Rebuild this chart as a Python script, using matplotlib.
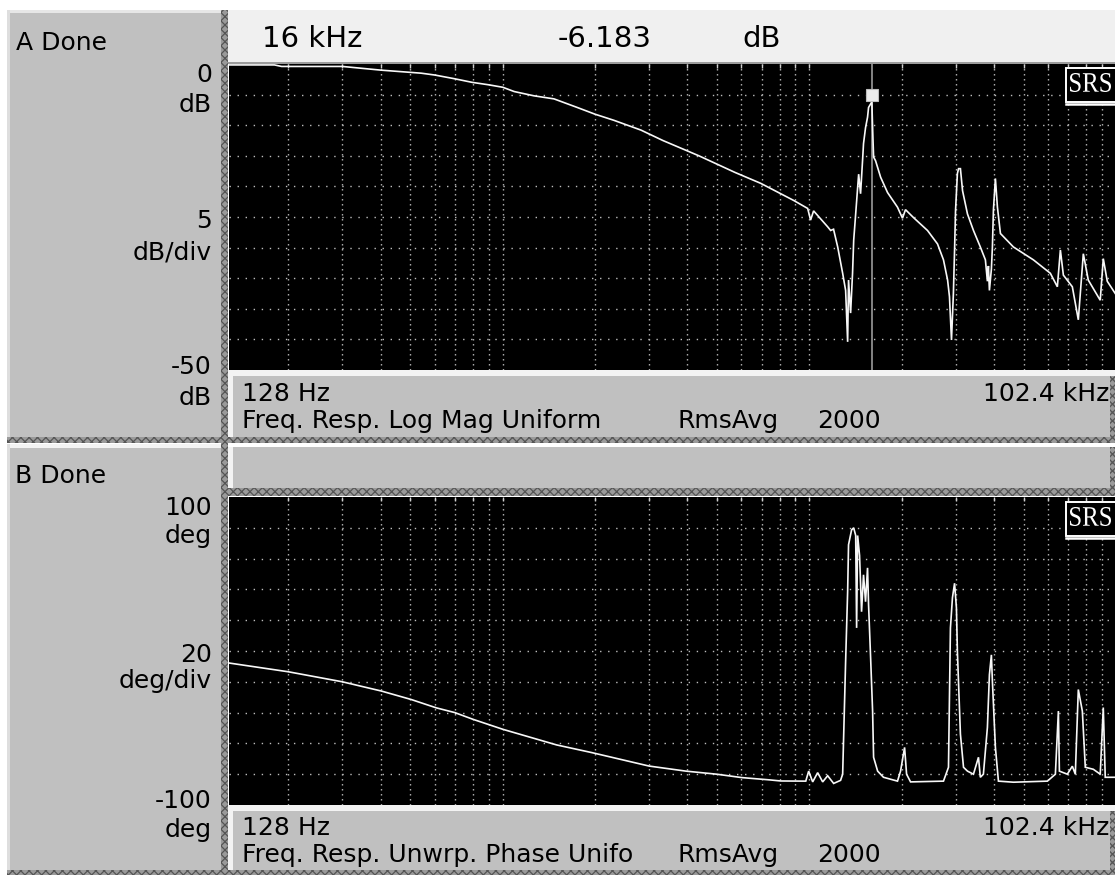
import matplotlib
matplotlib.use("Agg")
import matplotlib.pyplot as plt
from matplotlib.patches import Rectangle, Polygon, PathPatch
from matplotlib.transforms import ScaledTranslation, Affine2D
from matplotlib.textpath import TextPath
from matplotlib.font_manager import FontProperties

plt.rcParams["font.family"] = ["DejaVu Sans"]
plt.rcParams["hatch.linewidth"] = 0.9

# ---------------- measurement data ----------------
# Trace A: frequency response, log magnitude (dB)
mag_freq_hz = [128, 180, 190, 300, 400, 542, 600, 695, 795, 900, 1000, 1090, 1265,
               1470, 1750, 2000, 2305, 2825, 3330, 4365, 5715, 6945, 8900, 9880,
               10100, 10330, 11480, 11740, 12000, 12380, 12850, 13140, 13340, 13430,
               13640, 13840, 13960, 14170, 14380, 14490, 14700, 14920, 15030, 15260,
               15490, 15610, 16000, 16090, 16210, 16450, 17090, 18000, 19400, 20140,
               20600, 21880, 24300, 26200, 27400, 28260, 28660, 29100, 29520, 29780,
               30000, 30420, 30690, 31120, 31620, 32810, 34320, 36140, 37540, 38110,
               38400, 38690, 39270, 39570, 39870, 40470, 41090, 42030, 46340, 53830,
               61150, 64450, 65930, 67430, 72120, 75440, 78330, 81290, 88930, 91000,
               93760, 99560, 102400]
mag_db = [-0.15, -0.15, -0.4, -0.4, -1.0, -1.5, -1.8, -2.4, -3.0, -3.4, -3.8, -4.5, -5.2,
          -5.7, -7.1, -8.2, -9.2, -10.8, -12.5, -15.0, -17.7, -19.5, -22.3, -23.6,
          -25.5, -24.0, -26.6, -27.2, -27.0, -29.9, -34.2, -37.0, -45.4, -35.3,
          -40.7, -34.2, -28.8, -24.5, -20.2, -18.0, -21.2, -15.8, -13.0, -10.4,
          -8.7, -7.1, -6.183, -10.4, -15.2, -15.8, -18.5, -21.0, -23.4, -25.2,
          -23.8, -25.1, -27.2, -29.4, -32.0, -35.3, -38.0, -45.1, -37.5, -30.4,
          -23.9, -17.9, -17.1, -17.1, -20.7, -24.5, -27.2, -29.9, -32.0, -35.5,
          -33.0, -37.0, -33.5, -29.9, -23.9, -18.7, -23.4, -27.7, -29.9, -32.0,
          -34.2, -36.4, -30.4, -34.5, -36.4, -41.8, -31.0, -35.3, -38.6, -31.8,
          -35.5, -37.5, -38.5]

# Trace B: frequency response, unwrapped phase (deg)
ph_freq_hz = [128, 200, 300, 402, 503, 607, 698, 801, 1003, 1500, 1955, 3000, 3958,
              4990, 6025, 7430, 8070, 9740, 9955, 10260, 10650, 11060, 11480, 12010,
              12650, 12850, 13140, 13340, 13430, 13740, 13960, 14170, 14270, 14380,
              14590, 14810, 15030, 15260, 15490, 15610, 15850, 16090, 16210, 16710,
              17460, 19400, 19850, 20460, 20770, 21400, 27400, 28450, 28870, 29310,
              29780, 30200, 30420, 31120, 31850, 32810, 34320, 35640, 36140, 36980,
              38110, 38690, 39270, 39570, 40470, 41400, 46340, 59800, 63500, 64950,
              65440, 69460, 72120, 73760, 75440, 77750, 79500, 84430, 88930, 91000,
              92350, 99560, 102400]
ph_deg = [-7.8, -13.5, -20, -26, -31.5, -36.9, -40, -44.4, -50.9, -61, -66, -74.7, -78,
          -80, -82.2, -83.7, -84.4, -84.5, -78, -85, -79, -85, -81, -86,
          -84, -80, -6.6, 38.7, 69, 78.6, 80, 75, 15, 75,
          62, 25.5, 49.5, 32, 54, 30, -4, -39, -69, -78,
          -82, -84.5, -78, -62.6, -80, -85, -84.5, -75.5, 15, 34.6,
          44, 28, -0.4, -54, -75.5, -78, -80, -69, -82, -80,
          -49.6, -15.4, -2.5, -19.8, -62.6, -84.5, -85.2, -84.5, -80, -39,
          -78, -80, -74.8, -80, -25, -39, -75.5, -76.8, -80, -36.7,
          -82, -82, -82]

f_start, f_stop = 128, 102400
mag_range = (-50, 0)
ph_range = (-100, 100)
cursor_freq = 16000
cursor_db = -6.183

grid_freqs = [m * 10 ** k for k in (2, 3, 4) for m in range(2, 11)]
mag_grid = [-5 * i for i in range(1, 10)]
ph_grid = [80 - 20 * i for i in range(9)]

# ---------------- figure & panel chrome ----------------
W, H = 1115, 875
fig = plt.figure(figsize=(W / 100, H / 100), dpi=100)
fig.patch.set_facecolor("white")

bg = fig.add_axes([0, 0, 1, 1], zorder=0)
bg.set_xlim(0, W)
bg.set_ylim(H, 0)
bg.axis("off")

PANEL = "#c0c0c0"
LIGHT = "#f3f3f3"


def rect(ax, x0, y0, x1, y1, color, hatch=None):
    if hatch:
        ax.add_patch(Rectangle((x0, y0), x1 - x0, y1 - y0, facecolor="#9a9a9a",
                               edgecolor="#555555", hatch=hatch, linewidth=0))
    else:
        ax.add_patch(Rectangle((x0, y0), x1 - x0, y1 - y0, facecolor=color,
                               edgecolor="none", linewidth=0))


# left side panels
rect(bg, 7, 10, 221, 437, PANEL)
rect(bg, 7, 10, 221, 13, "#e6e6e6")
rect(bg, 7, 10, 10, 437, "#dedede")
rect(bg, 7, 445, 221, 870, PANEL)
rect(bg, 7, 444, 221, 448, LIGHT)
rect(bg, 7, 444, 10, 870, "#dedede")

# header A (light bar)
rect(bg, 228, 10, W, 62, "#f0f0f0")
rect(bg, 228, 62, W, 64, "#9c9c9c")

# footer A
rect(bg, 228, 370, W, 437, PANEL)
rect(bg, 228, 370, W, 376, LIGHT)
rect(bg, 228, 370, 233, 437, LIGHT)

# header B
rect(bg, 228, 447, W, 488, PANEL)
rect(bg, 228, 447, 233, 488, LIGHT)

# footer B
rect(bg, 228, 805, W, 870, PANEL)
rect(bg, 228, 805, W, 811, LIGHT)
rect(bg, 228, 805, 233, 870, LIGHT)

# dark separator strips
rect(bg, 221, 10, 228, 871, None, hatch="xxxx")
rect(bg, 7, 437, W, 443, None, hatch="xxxx")
rect(bg, 228, 488, W, 496, None, hatch="xxxx")
rect(bg, 7, 870, W, 875, None, hatch="xxxx")
rect(bg, 1110, 376, W, 437, None, hatch="xxxx")
rect(bg, 1110, 447, W, 488, None, hatch="xxxx")
rect(bg, 1110, 811, W, 870, None, hatch="xxxx")

# ---------------- text ----------------
LBL = 18


def txt(x, y, s, ha="left", size=LBL):
    bg.text(x, y, s, ha=ha, va="baseline", fontsize=size, color="black")


txt(16, 50, "A Done")
txt(15, 483, "B Done")

for s, y in [("0", 82), ("dB", 112), ("5", 228), ("dB/div", 259), ("-50", 374), ("dB", 405)]:
    txt(212, y, s, ha="right")
for s, y in [("100", 515), ("deg", 543), ("20", 662), ("deg/div", 688), ("-100", 808), ("deg", 837)]:
    txt(212, y, s, ha="right")

txt(262, 47, "16 kHz", size=21)
txt(558, 47, "-6.183", size=21)
txt(742, 47, "dB", size=21)

txt(242, 401, "128 Hz")
txt(1109, 401, "102.4 kHz", ha="right")
txt(242, 428, "Freq. Resp. Log Mag Uniform")
txt(678, 428, "RmsAvg")
txt(817, 428, "2000")

txt(242, 835, "128 Hz")
txt(1109, 835, "102.4 kHz", ha="right")
txt(242, 862, "Freq. Resp. Unwrp. Phase Unifo")
txt(678, 862, "RmsAvg")
txt(817, 862, "2000")

# ---------------- trace axes ----------------
def trace_axes(top_px, bottom_px, yr, hgrid):
    left, right = 229, 1119
    ax = fig.add_axes([left / W, (H - bottom_px) / H, (right - left) / W,
                       (bottom_px - top_px) / H], zorder=2)
    ax.set_facecolor("black")
    ax.set_xscale("log")
    ax.set_xlim(f_start, f_stop)
    ax.set_ylim(*yr)
    ax.set_xticks([])
    ax.set_yticks([])
    ax.minorticks_off()
    for sp in ax.spines.values():
        sp.set_visible(False)
    for f in grid_freqs:
        ax.axvline(f, color="#bdbdbd", lw=1.0, dashes=(1.0, 2.6), zorder=1)
    for v in hgrid:
        ax.axhline(v, color="#bdbdbd", lw=1.0, dashes=(1.0, 4.8), zorder=1)
    ax.vlines(grid_freqs, 0.988, 1.0, transform=ax.get_xaxis_transform(),
              color="#d0d0d0", lw=1.0, zorder=1)
    return ax


ax_a = trace_axes(64, 370, mag_range, mag_grid)
ax_b = trace_axes(497, 805, ph_range, ph_grid)

ax_a.plot(mag_freq_hz, mag_db, color="#f8f8f8", lw=1.2, zorder=3, solid_joinstyle="miter")
ax_b.plot(ph_freq_hz, ph_deg, color="#f8f8f8", lw=1.2, zorder=3, solid_joinstyle="miter")

# marker cursor on trace A
ax_a.axvline(cursor_freq, color="#a8a8a8", lw=1.1, zorder=2)
lift = ax_a.transData + ScaledTranslation(0, 7 / 100, fig.dpi_scale_trans)
ax_a.plot([cursor_freq], [cursor_db], marker="s", ms=8, mfc="#ececec", mec="#bdbdbd",
          mew=0.8, transform=lift, zorder=4, clip_on=False)

# ---------------- SRS badge ----------------
top = fig.add_axes([0, 0, 1, 1], zorder=5)
top.set_xlim(0, W)
top.set_ylim(H, 0)
top.axis("off")
top.patch.set_alpha(0)

badge_text = TextPath((0, 0), "SRS", size=1,
                      prop=FontProperties(family=["Liberation Serif", "DejaVu Serif"]))
ext = badge_text.get_extents()

for y0 in (68, 502):
    top.add_patch(Polygon([(1066, y0), (1122, y0), (1122, y0 + 28), (1116, y0 + 34),
                           (1066, y0 + 34)], closed=True, facecolor="black",
                          edgecolor="white", lw=1.4))
    top.plot([1066, 1114], [y0 + 35.5, y0 + 35.5], color="white", lw=1.8)
    glyphs = (Affine2D().translate(-ext.x0, -ext.y0)
              .scale(41 / ext.width, -19 / ext.height)
              .translate(1070, y0 + 24))
    top.add_patch(PathPatch(glyphs.transform_path(badge_text), facecolor="white",
                            edgecolor="none"))

fig.savefig("out.png", dpi=100, facecolor=fig.get_facecolor())
